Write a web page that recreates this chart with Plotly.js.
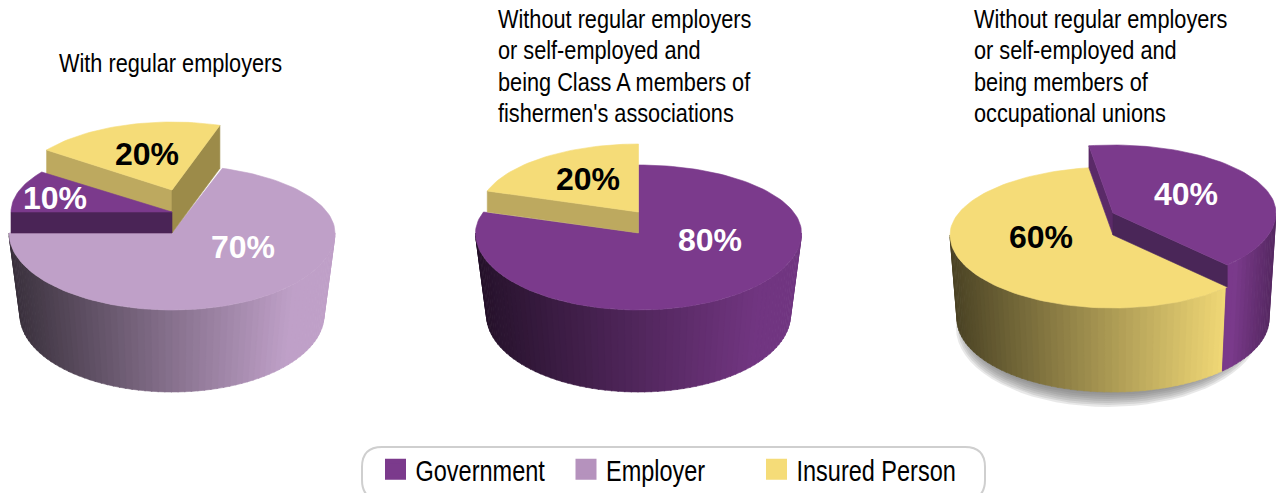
<!DOCTYPE html>
<html><head><meta charset="utf-8">
<script src="https://cdn.plot.ly/plotly-3.0.1.min.js"></script>
<style>html,body{margin:0;padding:0;background:#fff}#c{width:1276px;height:493px}</style>
</head><body><div id="c"></div>
<script>
// ---------- data ----------
const categories = ['Government', 'Employer', 'Insured Person'];
const regularEmployers = [10, 70, 20];
const fishermenMembers = [80, 0, 20];
const unionMembers = [40, 0, 60];
const titleRegular = ['With regular employers'];
const titleFishermen = ['Without regular employers', 'or self-employed and', 'being Class A members of', "fishermen's associations"];
const titleUnions = ['Without regular employers', 'or self-employed and', 'being members of', 'occupational unions'];

// ---------- styling ----------
const colors = {'Government': [123,58,140], 'Employer': [191,160,200], 'Insured Person': [245,220,120]};
const legendColors = {'Government': [123,58,140], 'Employer': [181,146,189], 'Insured Person': [245,220,120]};
const FONT = '"Liberation Sans",Arial,sans-serif';
const RX = 163;
let BRX = 152, TOPY = 233, RYB = 68, RYF = 77, BDY = 82, WALLMAX = 1;
const rgb = (c, k = 1) => `rgb(${c.map(v => Math.round(v * k)).join(',')})`;
const rad = d => d * Math.PI / 180;

const traces = [];
function poly(xs, ys, color) {
  traces.push({x: xs, y: ys, type: 'scatter', mode: 'lines', fill: 'toself', fillcolor: color,
    line: {color: color, width: 0.6}, hoverinfo: 'skip', showlegend: false});
}
function polyNoLine(xs, ys, color) {
  traces.push({x: xs, y: ys, type: 'scatter', mode: 'lines', fill: 'toself', fillcolor: color,
    line: {width: 0}, hoverinfo: 'skip', showlegend: false});
}
function rim(cx, cy, a, rx) {
  const c = Math.cos(rad(a));
  return [cx + rx * Math.sin(rad(a)), cy - (c > 0 ? RYB : RYF) * c];
}
function arc(cx, cy, a0, a1, rx) {
  const out = [];
  const n = Math.max(2, Math.ceil((a1 - a0) / 2));
  for (let i = 0; i <= n; i++) out.push(rim(cx, cy, a0 + (a1 - a0) * i / n, rx));
  return out;
}
function drawTop(cx, s) {
  const y0 = TOPY - s.raise;
  const pts = [[cx, y0], ...arc(cx, y0, s.a0, s.a1, s.rx), [cx, y0]];
  poly(pts.map(p => p[0]), pts.map(p => p[1]), rgb(colors[s.cat]));
}
function drawCut(cx, s, a, color) {
  const y0 = TOPY - s.raise;
  const p = rim(cx, y0, a, s.rx);
  poly([cx, p[0], p[0], cx, cx], [y0, p[1], p[1] + s.raise, y0 + s.raise, y0], color);
}
function drawWall(cx, s) {
  const from = Math.max(s.a0, 90), to = Math.min(s.a1, 270);
  if (to <= from) return;
  const step = 2.5;
  for (let a = from; a < to - 1e-6; a += step) {
    const b = Math.min(a + step + 0.4, to);
    const y0 = TOPY - s.raise;
    const p = rim(cx, y0, a, s.rx), q = rim(cx, y0, b, s.rx);
    const pb = rim(cx, TOPY + BDY, a, BRX), qb = rim(cx, TOPY + BDY, b, BRX);
    const t = (p[0] - (cx - RX)) / (2 * RX);
    const k = t < 0.88 ? 0.3 + (WALLMAX - 0.3) * t / 0.88 : (s.raise > 0 ? 1 - (t - 0.88) * 2.5 : WALLMAX);
    poly([p[0], q[0], qb[0], pb[0], p[0]], [p[1], q[1], qb[1], pb[1], p[1]], rgb(colors[s.cat], k));
  }
}
function slices(values, order, start, raise, rxs) {
  let a = start; const out = {};
  order.forEach(i => {
    const sweep = values[i] * 3.6;
    out[i] = {cat: categories[i], a0: a, a1: a + sweep, raise: raise[i], rx: rxs[i]};
    a += sweep;
  });
  return out;
}

// Shadow under the third pie
for (let k = 8; k >= 0; k--) {
  const pts = [];
  for (let d = 0; d <= 360; d += 5)
    pts.push([1108 + (136 + k * 2) * Math.sin(rad(d)), 328 + (63 + k * 2) * Math.cos(rad(d))]);
  polyNoLine(pts.map(p => p[0]), pts.map(p => p[1]), 'rgba(110,110,110,0.16)');
}

// Pie 1
{
  const cx = 172, s = slices(regularEmployers, [1, 0, 2], 18, [21, 0, 43], [161, RX, 155]);
  drawWall(cx, s[1]); drawTop(cx, s[1]);
  drawCut(cx, s[2], s[2].a0, '#bda95f'); drawCut(cx, s[2], s[2].a1, '#9c8b49'); drawTop(cx, s[2]);
  drawCut(cx, s[0], s[0].a0, '#4a2456'); drawTop(cx, s[0]);
}
// Pie 2
{
  WALLMAX = 0.92;
  const cx = 638.5, s = slices(fishermenMembers, [0, 2], 0, [0, 0, 21], [RX, RX, 159]);
  drawWall(cx, s[0]); drawTop(cx, s[0]);
  drawCut(cx, s[2], s[2].a0, '#bda95f'); drawTop(cx, s[2]);
}
// Pie 3
{
  TOPY = 235; RYF = 73; BDY = 84; BRX = 156; WALLMAX = 1;
  const cx = 1113, s = slices(unionMembers, [0, 2], -8.5, [22, 0, 0], [RX, RX, RX]);
  drawWall(cx, s[2]); drawWall(cx, s[0]); drawTop(cx, s[2]);
  drawCut(cx, s[0], s[0].a0, '#5a2a68'); drawCut(cx, s[0], s[0].a1, '#4a2658'); drawTop(cx, s[0]);
}

// Percentage labels
const labelText = [regularEmployers[0], regularEmployers[2], regularEmployers[1], fishermenMembers[0], fishermenMembers[2], unionMembers[2], unionMembers[0]].map(v => v + '%');
const labelX = [55, 147, 243, 710, 588, 1041, 1186];
const labelY = [201, 157, 250, 243, 182, 240, 197];
const labelColor = ['#fff', '#000', '#fff', '#fff', '#000', '#000', '#fff'];
traces.push({x: labelX, y: labelY, text: labelText, type: 'scatter', mode: 'text', textposition: 'middle center',
  textfont: {family: FONT, size: 32, color: labelColor, weight: 700}, hoverinfo: 'skip', showlegend: false});

// Legend entries
categories.forEach(c => traces.push({x: [-500], y: [-500], name: c, type: 'scatter', mode: 'markers',
  marker: {symbol: 'square', size: 17, color: rgb(legendColors[c]), line: {color: rgb(legendColors[c]), width: 5}}, hoverinfo: 'skip'}));

// Titles
const annotations = [];
function addTitle(lines, x, ys) {
  lines.forEach((t, i) => annotations.push({text: t, x: x, y: ys[i], xref: 'x', yref: 'y', xanchor: 'left', yanchor: 'middle',
    showarrow: false, align: 'left', font: {family: FONT, size: 26, color: '#000'}}));
}
addTitle(titleRegular, 57, [63]);
addTitle(titleFishermen, 496, [19, 50, 82, 113]);
addTitle(titleUnions, 972, [19, 50, 82, 113]);

const layout = {
  width: 1276, height: 493, margin: {l: 0, r: 0, t: 0, b: 0, autoexpand: false}, paper_bgcolor: '#fff', plot_bgcolor: '#fff',
  xaxis: {range: [0, 1276], visible: false, fixedrange: true},
  yaxis: {range: [493, 0], visible: false, fixedrange: true},
  annotations: annotations,
  shapes: [{type: 'path', xref: 'x', yref: 'y', layer: 'below', line: {color: '#cfcfcf', width: 2}, fillcolor: 'rgba(0,0,0,0)',
    path: 'M 382 447 L 965 447 Q 985 447 985 467 L 985 480 Q 985 500 965 500 L 382 500 Q 362 500 362 480 L 362 467 Q 362 447 382 447 Z'}],
  legend: {orientation: 'h', x: 375.5 / 1276, xanchor: 'left', y: 1 - 469.5 / 493, yanchor: 'middle', borderwidth: 0, bgcolor: 'rgba(0,0,0,0)',
    entrywidth: 145.5, entrywidthmode: 'pixels', font: {family: FONT, size: 29, color: '#000'}, itemclick: false, itemdoubleclick: false, traceorder: 'normal'},
  hovermode: false
};
Plotly.newPlot('c', traces, layout, {displayModeBar: false, staticPlot: true}).then(gd => {
  // The original type is a horizontally condensed Arial; condense the real text the same way.
  const condense = (el, f) => {
    const w = el.getComputedTextLength();
    el.setAttribute('textLength', (w * f).toFixed(1));
    el.setAttribute('lengthAdjust', 'spacingAndGlyphs');
  };
  gd.querySelectorAll('.annotation-text').forEach(el => condense(el, 0.835));
  gd.querySelectorAll('.legendtext').forEach(el => condense(el, 0.81));
  gd.querySelectorAll('.legend .scrollbox').forEach(el => el.removeAttribute('clip-path'));
  gd.querySelectorAll('.legend').forEach(el => el.style.overflow = 'visible');
});
</script></body></html>
